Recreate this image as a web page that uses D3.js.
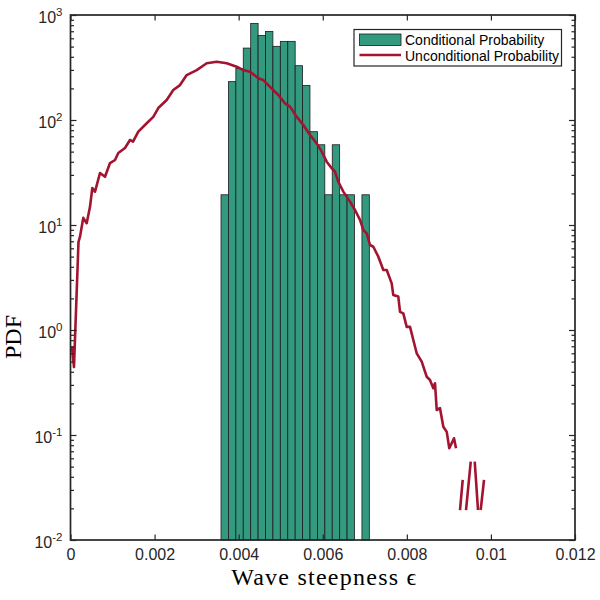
<!DOCTYPE html>
<html>
<head>
<meta charset="utf-8">
<script src="https://cdn.jsdelivr.net/npm/d3@7"></script>
<style>
body { margin: 0; background: #fff; }
</style>
</head>
<body>
<div id="main"></div>
<script>
// conditional histogram (20 bins, one empty)
var binCenters = [0.003668, 0.003844, 0.004021, 0.004197, 0.004374, 0.004550, 0.004726,
                  0.004903, 0.005079, 0.005256, 0.005432, 0.005608, 0.005785, 0.005961,
                  0.006138, 0.006314, 0.006490, 0.006667, 0.006843, 0.007020];
var binPdf = [19.4, 232, 310, 484, 832, 639, 697, 503, 561, 561,
              329, 213, 77.4, 58.1, 19.4, 58.1, 19.4, 19.4, 0, 19.4];

// unconditional pdf, 0 = empty bin (not drawn on log axis)
var curveX = [0.000036, 0.000083, 0.000190, 0.000226, 0.000304, 0.000385, 0.000464, 0.000519,
              0.000583, 0.000702, 0.000821, 0.000940, 0.001059, 0.001137, 0.001296, 0.001415,
              0.001487, 0.001613, 0.001813, 0.001970, 0.002088, 0.002288, 0.002445, 0.002605,
              0.002764, 0.003002, 0.003240, 0.003478, 0.003716, 0.003953, 0.004110, 0.004270,
              0.004467, 0.004586, 0.004746, 0.004943, 0.005102, 0.005221, 0.005381, 0.005538,
              0.005697, 0.005856, 0.005975, 0.006094, 0.006213, 0.006292, 0.006370, 0.006489,
              0.006648, 0.006767, 0.006886, 0.006965, 0.007046, 0.007124, 0.007203, 0.007322,
              0.007441, 0.007522, 0.007640, 0.007678, 0.007797, 0.007838, 0.007916, 0.007997,
              0.008076, 0.008154, 0.008235, 0.008354, 0.008473, 0.008551, 0.008630, 0.008670,
              0.008711, 0.008789, 0.008868, 0.008949, 0.009010, 0.009067, 0.009122, 0.009170,
              0.009218, 0.009265, 0.009329, 0.009368, 0.009408, 0.009520, 0.009568, 0.009615,
              0.009693, 0.009725, 0.009757, 0.009836];
var curvePdf = [0.689, 0.444, 6.89, 7.74, 11.7, 10.4, 14.9, 22.5,
                20.8, 31.3, 28.8, 38.9, 41.6, 48.5, 54.1, 64.5,
                62.1, 77.4, 93.1, 107, 130, 155, 193, 215,
                268, 299, 347, 359, 347, 322, 299, 288,
                250, 240, 207, 173, 144, 134, 107, 89.6,
                71.9, 59.9, 49.9, 40.1, 34.7, 32.2, 25.8, 20.8,
                16.7, 13.9, 11.2, 8.97, 8.33, 6.45, 6.21, 4.99,
                3.73, 3.73, 2.78, 2.15, 2.08, 1.49, 1.44, 1.07,
                1.07, 0.803, 0.600, 0.499, 0.359, 0.334, 0.279, 0.311,
                0.173, 0.180, 0.120, 0.107, 0.0747, 0.0834, 0.0931, 0.0747,
                0, 0.0193, 0.0373, 0, 0.0193, 0.0557, 0, 0.0557,
                0.0193, 0, 0.0193, 0.0373];

var xTicks = [0, 0.002, 0.004, 0.006, 0.008, 0.01, 0.012];
var xTickLabels = ["0", "0.002", "0.004", "0.006", "0.008", "0.01", "0.012"];
var yTicks = [1e-2, 1e-1, 1e0, 1e1, 1e2, 1e3];
var yTickExps = ["-2", "-1", "0", "1", "2", "3"];
var seriesNames = ["Conditional Probability", "Unconditional Probability"];

var ctx = {
    w: 600, h: 600,
    left: 70.5, right: 575, top: 15, bottom: 540,
    green: "#33997f",
    red: "#a2142f",
    axis: "#262626"
};

var svg = d3.select("#main").append("svg")
    .attr("width", ctx.w)
    .attr("height", ctx.h);

var x = d3.scaleLinear().domain([0, 0.012]).range([ctx.left, ctx.right]);
var y = d3.scaleLog().domain([1e-2, 1e3]).range([ctx.bottom, ctx.top]);

// minor ticks for the log axis
var yMinor = [];
yTicks.slice(0, -1).forEach(function(t) {
    for (var k = 2; k <= 9; k++) yMinor.push(t * k);
});

// bars
var bw = x(binCenters[1]) - x(binCenters[0]);
svg.append("g").selectAll("rect")
    .data(binCenters.map(function(c, i) { return {c: c, v: binPdf[i]}; })
                    .filter(function(d) { return d.v > 0; }))
    .enter().append("rect")
      .attr("x", function(d) { return x(d.c) - bw / 2; })
      .attr("width", bw)
      .attr("y", function(d) { return y(d.v); })
      .attr("height", function(d) { return ctx.bottom - y(d.v); })
      .attr("fill", ctx.green)
      .attr("stroke", "#1c1c1c")
      .attr("stroke-width", 0.8);

// curve
var pts = curveX.map(function(cx, i) { return {x: cx, y: curvePdf[i]}; });
var line = d3.line()
    .defined(function(d) { return d.y > 0; })
    .x(function(d) { return x(d.x); })
    .y(function(d) { return y(d.y); });
svg.append("path")
    .datum(pts)
    .attr("d", line)
    .attr("fill", "none")
    .attr("stroke", ctx.red)
    .attr("stroke-width", 2.6)
    .attr("stroke-linejoin", "round");

// axes
var styleAxis = function(g) {
    g.select(".domain").remove();
    g.selectAll(".tick line").attr("stroke", ctx.axis).attr("stroke-width", 1.2);
    g.selectAll("text").attr("fill", ctx.axis)
        .style("font-family", "'Liberation Sans', Arial, sans-serif")
        .style("font-size", "16px");
};

svg.append("g")
    .attr("transform", "translate(0," + ctx.bottom + ")")
    .call(d3.axisBottom(x).tickValues(xTicks).tickSize(-5.5).tickPadding(9)
        .tickFormat(function(d, i) { return xTickLabels[i]; }))
    .call(styleAxis);
svg.append("g")
    .attr("transform", "translate(0," + ctx.top + ")")
    .call(d3.axisTop(x).tickValues(xTicks).tickSize(-5.5).tickFormat(""))
    .call(styleAxis);

var yLeft = svg.append("g")
    .attr("transform", "translate(" + ctx.left + ",0)")
    .call(d3.axisLeft(y).tickValues(yTicks).tickSize(-6).tickPadding(8).tickFormat(""))
    .call(styleAxis);
yLeft.selectAll(".tick text")
    .attr("dy", "0.48em")
    .each(function(d, i) {
        var t = d3.select(this);
        t.append("tspan").text("10");
        t.append("tspan").attr("dy", "-7.5").style("font-size", "11.5px").text(yTickExps[i]);
    });
svg.append("g")
    .attr("transform", "translate(" + ctx.left + ",0)")
    .call(d3.axisLeft(y).tickValues(yMinor).tickSize(-3.5).tickFormat(""))
    .call(styleAxis);
svg.append("g")
    .attr("transform", "translate(" + ctx.right + ",0)")
    .call(d3.axisRight(y).tickValues(yTicks).tickSize(-6).tickFormat(""))
    .call(styleAxis);
svg.append("g")
    .attr("transform", "translate(" + ctx.right + ",0)")
    .call(d3.axisRight(y).tickValues(yMinor).tickSize(-3.5).tickFormat(""))
    .call(styleAxis);

// box
svg.append("rect")
    .attr("x", ctx.left).attr("y", ctx.top)
    .attr("width", ctx.right - ctx.left).attr("height", ctx.bottom - ctx.top)
    .attr("fill", "none")
    .attr("stroke", ctx.axis)
    .attr("stroke-width", 1.7);

// axis labels
svg.append("text")
    .attr("x", (ctx.left + ctx.right) / 2 + 1)
    .attr("y", 585)
    .attr("text-anchor", "middle")
    .attr("textLength", 185)
    .attr("lengthAdjust", "spacing")
    .style("font-family", "'Liberation Serif', 'Times New Roman', serif")
    .style("font-size", "24px")
    .attr("fill", "#000")
    .text("Wave steepness \u03F5");
svg.append("text")
    .attr("transform", "translate(20.5,337) rotate(-90)")
    .attr("text-anchor", "middle")
    .style("font-family", "'Liberation Serif', 'Times New Roman', serif")
    .style("font-size", "24px")
    .attr("fill", "#000")
    .text("PDF");

// legend
var lg = svg.append("g");
lg.append("rect")
    .attr("x", 354).attr("y", 29.5).attr("width", 207.5).attr("height", 36.5)
    .attr("fill", "#fff").attr("stroke", ctx.axis).attr("stroke-width", 1.2);
lg.append("rect")
    .attr("x", 359.5).attr("y", 34).attr("width", 41.5).attr("height", 11.5)
    .attr("fill", ctx.green).attr("stroke", "#1c1c1c").attr("stroke-width", 0.8);
lg.append("line")
    .attr("x1", 359.5).attr("x2", 401).attr("y1", 55).attr("y2", 55)
    .attr("stroke", ctx.red).attr("stroke-width", 2.6);
lg.selectAll("text.leg")
    .data(seriesNames)
    .enter().append("text")
      .attr("class", "leg")
      .attr("x", 405)
      .attr("y", function(d, i) { return 45 + i * 15.5; })
      .style("font-family", "'Liberation Sans', Arial, sans-serif")
      .style("font-size", "14px")
      .attr("fill", "#000")
      .text(function(d) { return d; });
</script>
</body>
</html>
